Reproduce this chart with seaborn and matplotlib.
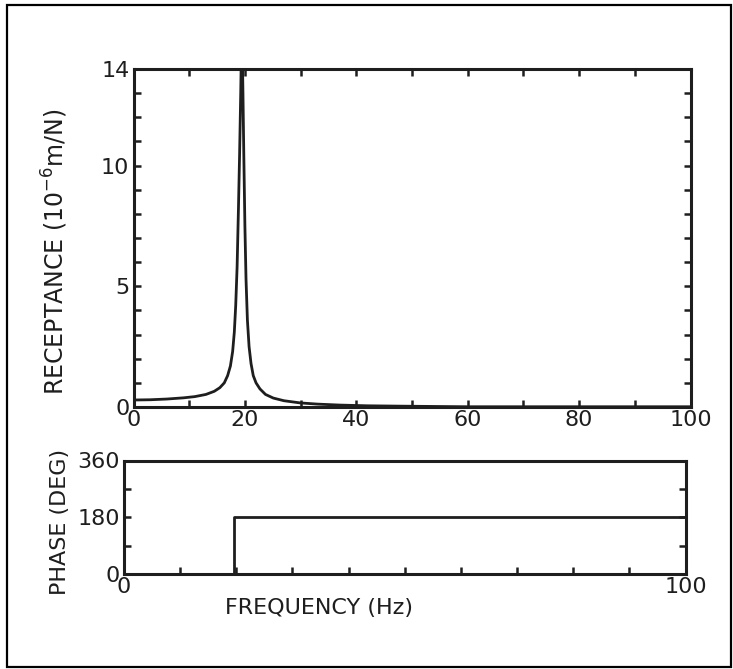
import matplotlib
matplotlib.use("Agg")
import matplotlib.pyplot as plt
from matplotlib.patches import Rectangle
import seaborn as sns

# ---------------------------------------------------------------
# Data
# ---------------------------------------------------------------
freq_hz = [0, 3, 6, 9, 11, 13, 14.5, 15.5, 16.3, 16.9, 17.4, 17.8, 18.1,
           18.35, 18.6, 18.85, 19.05, 19.25, 19.45,
           19.65, 19.8, 20.0, 20.2, 20.45, 20.75, 21.1, 21.5, 22.0, 22.7,
           23.7, 25.1, 27, 29.9, 33, 37, 42, 48, 55, 60, 70, 80, 90, 100]
receptance = [0.29, 0.30, 0.33, 0.38, 0.43, 0.52, 0.65, 0.80, 1.0, 1.3, 1.7, 2.3, 3.1,
              4.2, 5.8, 8.3, 10.5, 13.0, 16.0,
              13.0, 10.5, 7.5, 5.3, 3.6, 2.5, 1.8, 1.3, 1.0, 0.75,
              0.52, 0.37, 0.26, 0.17, 0.12, 0.08, 0.05, 0.035, 0.02, 0.01, 0.01, 0.01, 0.01, 0.01]

phase_freq = [0, 19.6, 19.6, 100]
phase_deg = [0, 0, 180, 180]

rec_ticks = [0, 5, 10, 14]
rec_minor = list(range(0, 15))
freq_ticks = list(range(0, 101, 10))
freq_labels_top = ["0", "", "20", "", "40", "", "60", "", "80", "", "100"]
freq_labels_bot = ["0", "", "", "", "", "", "", "", "", "", "100"]
phase_ticks = [0, 90, 180, 270, 360]
phase_labels = ["0", "", "180", "", "360"]

# ---------------------------------------------------------------
# Style
# ---------------------------------------------------------------
sns.set_style("ticks")
plt.rcParams["font.family"] = ["DejaVu Sans"]
plt.rcParams["mathtext.fontset"] = "dejavusans"
ink = "#1e1e1e"
fs = 16

fig = plt.figure(figsize=(7.33, 6.69), dpi=100)
W, H = 733, 669
ax1 = fig.add_axes([133.5 / W, 1 - 407 / H, (690.5 - 133.5) / W, (407 - 69) / H])
ax2 = fig.add_axes([124 / W, 1 - 574 / H, (685.5 - 124) / W, (574 - 460.5) / H])

# outer frame of the scanned page
fig.add_artist(Rectangle((7 / W, 2 / H), 724 / W, 662 / H, transform=fig.transFigure,
                         fill=False, edgecolor="black", linewidth=1.6))

# ---------------------------------------------------------------
# Receptance panel
# ---------------------------------------------------------------
sns.lineplot(x=freq_hz, y=receptance, ax=ax1, color=ink, linewidth=2.0,
             estimator=None, sort=False)
ax1.set_xlim(0, 100)
ax1.set_ylim(0, 14)
ax1.set_xticks(freq_ticks)
ax1.set_xticklabels(freq_labels_top)
ax1.set_yticks(rec_ticks)
ax1.set_yticks(rec_minor, minor=True)
ax1.set_yticklabels([str(t) for t in rec_ticks])
ax1.tick_params(axis="both", which="both", direction="in", length=5, width=1.8,
                color=ink, labelcolor=ink, labelsize=fs, top=True, right=True)
ax1.tick_params(axis="x", pad=2)
ax1.tick_params(axis="y", pad=3)
ax1.set_ylabel(r"RECEPTANCE (10$^{-6}$m/N)", fontsize=17, color=ink)
ax1.yaxis.set_label_coords(-0.114, 0.46)

# ---------------------------------------------------------------
# Phase panel
# ---------------------------------------------------------------
sns.lineplot(x=phase_freq, y=phase_deg, ax=ax2, color=ink, linewidth=2.0,
             estimator=None, sort=False)
ax2.set_xlim(0, 100)
ax2.set_ylim(0, 360)
ax2.set_xticks(freq_ticks)
ax2.set_xticklabels(freq_labels_bot)
ax2.set_yticks(phase_ticks)
ax2.set_yticklabels(phase_labels)
ax2.tick_params(axis="both", direction="in", length=5, width=1.8,
                color=ink, labelcolor=ink, labelsize=fs, top=False, right=True)
ax2.tick_params(axis="x", pad=2)
ax2.tick_params(axis="y", pad=3)
ax2.set_ylabel("PHASE (DEG)", fontsize=fs, color=ink)
ax2.yaxis.set_label_coords(-0.096, 0.46)
ax2.set_xlabel("FREQUENCY (Hz)", fontsize=fs, color=ink)
ax2.xaxis.set_label_coords(0.347, -0.21)

for ax in (ax1, ax2):
    for side in ["left", "right", "top", "bottom"]:
        ax.spines[side].set_visible(True)
        ax.spines[side].set_linewidth(2.2)
        ax.spines[side].set_color(ink)

fig.savefig("out.png", dpi=100)
